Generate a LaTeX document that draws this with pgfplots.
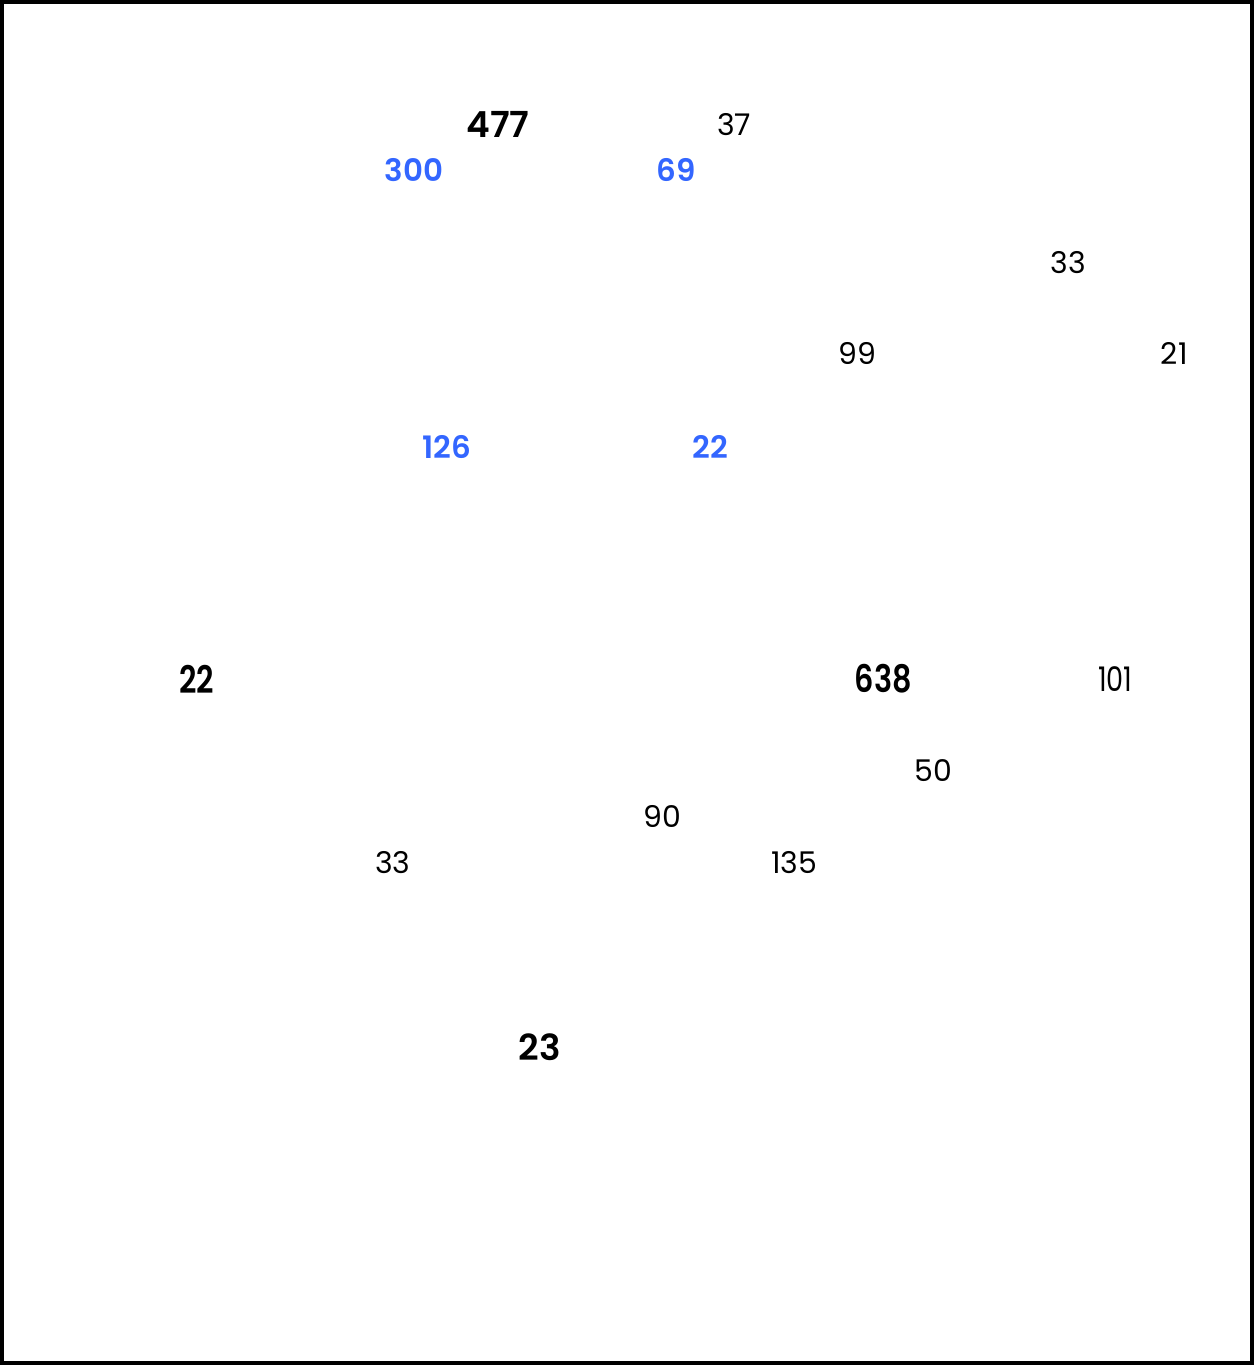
\documentclass[border=0pt]{standalone}
\usepackage{pgfplots}
\pgfplotsset{compat=1.18}
\usepackage{fontspec}
\setmainfont{Poppins}[BoldFont={Poppins SemiBold}]
\newfontfamily\condfont{Poppins}[FakeStretch=0.8, BoldFont={Poppins SemiBold}]
\definecolor{labelblue}{HTML}{3366FF}

\begin{document}
\begin{tikzpicture}
  \begin{axis}[
      scale only axis,
      width=624.5bp, height=680bp,
      xmin=3.5, xmax=1252.5,
      ymin=2.5, ymax=1362.5,
      y dir=reverse,
      ticks=none,
      axis line style={line width=2bp, black},
      clip=false,
      nodes near coords={\pgfplotspointmeta},
      point meta=explicit symbolic,
    ]

    % large bold labels
    \addplot[draw=none, mark=none,
      every node near coord/.style={anchor=center, font=\fontsize{18}{18}\selectfont\bfseries, text=black}]
      table[meta=lab] {
        x y lab
        499 125 477
        541 1047 23
      };
    % condensed bold labels
    \addplot[draw=none, mark=none,
      every node near coord/.style={anchor=center, font=\condfont\fontsize{19}{19}\selectfont\bfseries, text=black}]
      table[meta=lab] {
        x y lab
        198 679 22
        884 679 638
      };
    \addplot[draw=none, mark=none,
      every node near coord/.style={anchor=center, font=\condfont\fontsize{17}{17}\selectfont, text=black}]
      table[meta=lab] {
        x y lab
        1116 679 101
      };

    % blue labels
    \addplot[draw=none, mark=none,
      every node near coord/.style={anchor=center, font=\fontsize{15.5}{15.5}\selectfont\bfseries, text=labelblue}]
      table[meta=lab] {
        x y lab
        415 170 300
        677 170 69
        448 447 126
        711 447 22
      };

    % regular labels
    \addplot[draw=none, mark=none,
      every node near coord/.style={anchor=center, font=\fontsize{15}{15}\selectfont, text=black}]
      table[meta=lab] {
        x y lab
        735 125 37
        1069 263 33
        858 354 99
        1175 354 21
        934 770 50
        663 816 90
        394 862 33
        795 862 135
      };
  \end{axis}
\end{tikzpicture}
\end{document}
